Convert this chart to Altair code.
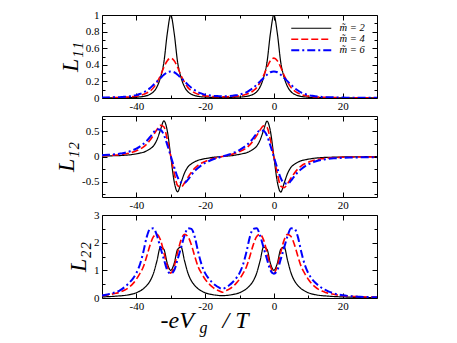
import altair as alt
import pandas as pd

# ---------------- data ----------------
x_vals = [-50, -48, -46, -45, -44, -43, -42, -41, -40, -39, -38, -37, -36, -35, -34, -33,
          -32, -31, -30, -29, -28, -27, -26, -25, -24, -23, -22, -21, -20, -19, -18, -17,
          -16, -15, -14, -13, -12, -11, -10, -9, -8, -7, -6, -5, -4, -3, -2, -1, 0,
          1, 2, 3, 4, 5, 6, 7, 8, 9, 10, 11, 12, 13, 14, 15, 16, 18, 20, 22, 25, 30]

series_labels = ["m\u0303 = 2", "m\u0303 = 4", "m\u0303 = 6"]

l11_m2 = [0.002, 0.002, 0.0025, 0.003, 0.0035, 0.004, 0.005, 0.007, 0.009, 0.013, 0.018, 0.028,
          0.045, 0.075, 0.135, 0.245, 0.43, 0.78, 1.0, 0.78, 0.43, 0.245, 0.135, 0.075, 0.045,
          0.029, 0.019, 0.014, 0.011, 0.009, 0.007, 0.006, 0.006, 0.006, 0.006, 0.006, 0.007,
          0.009, 0.011, 0.014, 0.019, 0.029, 0.045, 0.075, 0.135, 0.245, 0.43, 0.78, 1.0,
          0.78, 0.43, 0.245, 0.135, 0.075, 0.045, 0.028, 0.018, 0.013, 0.009, 0.007, 0.005,
          0.004, 0.0035, 0.003, 0.0025, 0.002, 0.0015, 0.0012, 0.001, 0.0008]
l11_m4 = [0.003, 0.004, 0.006, 0.007, 0.009, 0.011, 0.013, 0.017, 0.022, 0.03, 0.042, 0.06,
          0.085, 0.125, 0.19, 0.27, 0.37, 0.45, 0.48, 0.45, 0.37, 0.27, 0.19, 0.125, 0.087,
          0.062, 0.045, 0.033, 0.025, 0.021, 0.017, 0.016, 0.015, 0.014, 0.015, 0.016, 0.017,
          0.021, 0.025, 0.033, 0.045, 0.062, 0.087, 0.125, 0.19, 0.27, 0.37, 0.45, 0.48,
          0.45, 0.37, 0.27, 0.19, 0.125, 0.085, 0.06, 0.042, 0.03, 0.022, 0.017, 0.013,
          0.011, 0.009, 0.007, 0.006, 0.004, 0.003, 0.0025, 0.002, 0.0015]
l11_m6 = [0.005, 0.007, 0.009, 0.01, 0.013, 0.016, 0.02, 0.027, 0.035, 0.048, 0.065, 0.09,
          0.12, 0.16, 0.2, 0.24, 0.28, 0.31, 0.32, 0.31, 0.28, 0.24, 0.2, 0.16, 0.123,
          0.094, 0.069, 0.053, 0.04, 0.033, 0.027, 0.024, 0.022, 0.02, 0.022, 0.024, 0.027,
          0.033, 0.04, 0.053, 0.069, 0.094, 0.123, 0.16, 0.2, 0.24, 0.28, 0.31, 0.32,
          0.31, 0.28, 0.24, 0.2, 0.16, 0.12, 0.09, 0.065, 0.048, 0.035, 0.027, 0.02,
          0.016, 0.013, 0.01, 0.009, 0.007, 0.005, 0.004, 0.003, 0.002]

l12_m2 = [0.009, 0.012, 0.016, 0.018, 0.021, 0.027, 0.032, 0.042, 0.052, 0.067, 0.082, 0.112,
          0.152, 0.212, 0.332, 0.523, 0.703, 0.503, 0.003, -0.497, -0.697, -0.516, -0.326,
          -0.205, -0.144, -0.104, -0.073, -0.057, -0.042, -0.031, -0.019, -0.012, -0.005, 0.0,
          0.005, 0.012, 0.019, 0.031, 0.042, 0.057, 0.073, 0.104, 0.144, 0.205, 0.326, 0.516,
          0.697, 0.497, -0.003, -0.503, -0.703, -0.523, -0.332, -0.212, -0.152, -0.112,
          -0.082, -0.067, -0.052, -0.042, -0.032, -0.027, -0.021, -0.018, -0.016, -0.012,
          -0.009, -0.007, -0.005, -0.003]
l12_m4 = [0.016, 0.021, 0.029, 0.035, 0.043, 0.053, 0.069, 0.089, 0.114, 0.144, 0.184, 0.244,
          0.324, 0.424, 0.534, 0.615, 0.585, 0.335, 0.005, -0.324, -0.574, -0.604, -0.523,
          -0.412, -0.311, -0.23, -0.169, -0.127, -0.097, -0.07, -0.047, -0.028, -0.014, 0.0,
          0.014, 0.028, 0.047, 0.07, 0.097, 0.127, 0.169, 0.23, 0.311, 0.412, 0.523, 0.604,
          0.574, 0.324, -0.005, -0.335, -0.585, -0.615, -0.534, -0.424, -0.324, -0.244,
          -0.184, -0.144, -0.114, -0.089, -0.069, -0.053, -0.043, -0.035, -0.029, -0.021,
          -0.016, -0.013, -0.01, -0.007]
l12_m6 = [0.026, 0.034, 0.044, 0.054, 0.064, 0.08, 0.1, 0.125, 0.155, 0.196, 0.246, 0.306,
          0.386, 0.476, 0.537, 0.527, 0.428, 0.228, 0.009, -0.211, -0.41, -0.509, -0.518,
          -0.457, -0.365, -0.283, -0.221, -0.17, -0.128, -0.094, -0.065, -0.04, -0.02, 0.0,
          0.02, 0.04, 0.065, 0.094, 0.128, 0.17, 0.221, 0.283, 0.365, 0.457, 0.518, 0.509,
          0.41, 0.211, -0.009, -0.228, -0.428, -0.527, -0.537, -0.476, -0.386, -0.306,
          -0.246, -0.196, -0.155, -0.125, -0.1, -0.08, -0.064, -0.054, -0.044, -0.034,
          -0.026, -0.02, -0.017, -0.013]

l22_m2 = [0.04, 0.05, 0.065, 0.075, 0.085, 0.1, 0.12, 0.15, 0.19, 0.25, 0.33, 0.45, 0.62, 0.9,
          1.35, 1.84, 1.76, 1.25, 1.0, 1.25, 1.76, 1.84, 1.35, 0.9, 0.62, 0.45, 0.33, 0.25,
          0.19, 0.15, 0.125, 0.105, 0.09, 0.085, 0.09, 0.105, 0.125, 0.15, 0.19, 0.25, 0.33,
          0.45, 0.62, 0.9, 1.35, 1.84, 1.76, 1.25, 1.0, 1.25, 1.76, 1.84, 1.35, 0.9, 0.62,
          0.45, 0.33, 0.25, 0.19, 0.15, 0.12, 0.1, 0.085, 0.075, 0.065, 0.05, 0.04, 0.03,
          0.022, 0.015]
l22_m4 = [0.085, 0.12, 0.17, 0.2, 0.25, 0.31, 0.4, 0.52, 0.68, 0.88, 1.12, 1.5, 1.92, 2.22,
          2.3, 2.1, 1.65, 1.15, 0.9, 1.15, 1.65, 2.1, 2.3, 2.22, 1.92, 1.5, 1.12, 0.88, 0.68,
          0.53, 0.41, 0.32, 0.26, 0.21, 0.26, 0.32, 0.41, 0.53, 0.68, 0.88, 1.12, 1.5, 1.92,
          2.22, 2.3, 2.1, 1.65, 1.15, 0.9, 1.15, 1.65, 2.1, 2.3, 2.22, 1.92, 1.5, 1.12, 0.88,
          0.68, 0.52, 0.4, 0.31, 0.25, 0.2, 0.17, 0.12, 0.085, 0.065, 0.045, 0.03]
l22_m6 = [0.09, 0.14, 0.21, 0.26, 0.34, 0.44, 0.56, 0.7, 0.9, 1.2, 1.65, 2.2, 2.5, 2.52, 2.25,
          1.82, 1.4, 1.0, 0.88, 1.0, 1.4, 1.82, 2.25, 2.52, 2.5, 2.2, 1.65, 1.2, 0.9, 0.71,
          0.57, 0.46, 0.38, 0.33, 0.38, 0.46, 0.57, 0.71, 0.9, 1.2, 1.65, 2.2, 2.5, 2.52, 2.25,
          1.82, 1.4, 1.0, 0.88, 1.0, 1.4, 1.82, 2.25, 2.52, 2.5, 2.2, 1.65, 1.2, 0.9, 0.7,
          0.56, 0.45, 0.36, 0.29, 0.23, 0.15, 0.1, 0.07, 0.045, 0.025]

x_domain = [-50, 30]
x_major = [-40, -20, 0, 20]
x_minor = [-30, -10, 10]

# ---------------- styles ----------------
colors = ["#000000", "#ff0000", "#0000ff"]
dashes = [[1, 0], [7, 3], [8, 3, 2, 3]]
widths = [1.2, 2.0, 2.5]
SERIF = "Liberation Serif"


def long_df(lists):
    rows = []
    for lab, vals in zip(series_labels, lists):
        for xv, v in zip(x_vals, vals):
            rows.append({"x": xv, "v": v, "s": lab})
    return pd.DataFrame(rows)


def panel(df, title, y_domain, y_major, y_minor, height, legend=False, x_title=False):
    xs = alt.Scale(domain=x_domain, nice=False, zero=False)
    ys = alt.Scale(domain=y_domain, nice=False, zero=False)
    if legend:
        leg = alt.Legend(title=None, orient="none", legendX=204, legendY=8,
                         symbolType="M-5,0L5,0", symbolSize=64, labelFont=SERIF,
                         labelFontStyle="italic", labelFontSize=10.5, labelOffset=23,
                         padding=0, rowPadding=0, labelColor="black")
    else:
        leg = None

    main_x_axis = dict(values=x_major, labelExpr="'' + datum.value", ticks=False,
                       domain=False, grid=False, labelPadding=2, labelFlush=False,
                       title=None)
    if x_title:
        main_x_axis.update(title="-eV", titleX=58, titleY=29, titleAlign="left",
                           titleBaseline="alphabetic", titleFont=SERIF,
                           titleFontStyle="italic", titleFontWeight="normal",
                           titleFontSize=24, titleColor="black")

    main = alt.Chart(df).mark_line(interpolate="monotone", clip=True).encode(
        x=alt.X("x:Q", scale=xs, axis=alt.Axis(**main_x_axis)),
        y=alt.Y("v:Q", scale=ys, axis=alt.Axis(
            values=y_major, labelExpr="'' + datum.value", ticks=False, domain=False,
            grid=False, labelPadding=3, labelFlush=False, title=title,
            titleFont=SERIF, titleFontStyle="italic", titleFontWeight="normal",
            titleFontSize=24, titlePadding=3, titleColor="black")),
        color=alt.Color("s:N", scale=alt.Scale(domain=series_labels, range=colors), legend=leg),
        strokeDash=alt.StrokeDash("s:N", scale=alt.Scale(domain=series_labels, range=dashes), legend=leg),
        strokeWidth=alt.StrokeWidth("s:N", scale=alt.Scale(domain=series_labels, range=widths), legend=leg),
    )

    def tick_layer(ox, oy, xv, yv, size, extra_x=None):
        xa = dict(orient=ox, values=xv, labels=False, domain=False, grid=False,
                  ticks=True, tickSize=size, offset=-size, tickColor="black",
                  tickWidth=1, title=None)
        if extra_x:
            xa.update(extra_x)
        return alt.Chart(df).mark_line(opacity=0).encode(
            x=alt.X("x:Q", scale=xs, axis=alt.Axis(**xa)),
            y=alt.Y("v:Q", scale=ys, axis=alt.Axis(
                orient=oy, values=yv, labels=False, domain=False, grid=False,
                ticks=True, tickSize=size, offset=-size, tickColor="black",
                tickWidth=1, title=None)),
        )

    tfont = dict(titleFont=SERIF, titleFontStyle="italic", titleFontWeight="normal",
                 titleColor="black", titleAlign="left", titleBaseline="alphabetic")
    g_extra = None
    t_extra = None
    if x_title:
        g_extra = dict(title="g", titleX=97, titleY=39, titleFontSize=16, **tfont)
        t_extra = dict(title="/ T", titleX=120, titleY=32, titleFontSize=24, **tfont)

    layers = [
        main,
        tick_layer("bottom", "left", x_major, y_major, 5, g_extra),
        tick_layer("bottom", "left", x_minor, y_minor, 3, t_extra),
        tick_layer("top", "right", x_major, y_major, 5),
        tick_layer("top", "right", x_minor, y_minor, 3),
    ]
    return alt.layer(*layers).resolve_axis(x="independent", y="independent").properties(
        width=275, height=height)


p1 = panel(long_df([l11_m2, l11_m4, l11_m6]), "L\u2081\u2081", [0, 1],
           [0, 0.2, 0.4, 0.6, 0.8, 1], [0.1, 0.3, 0.5, 0.7, 0.9], 83, legend=True)
p2 = panel(long_df([l12_m2, l12_m4, l12_m6]), "L\u2081\u2082", [-0.8, 0.8],
           [-0.5, 0, 0.5], [-0.75, -0.25, 0.25, 0.75], 81)
p3 = panel(long_df([l22_m2, l22_m4, l22_m6]), "L\u2082\u2082", [0, 3],
           [0, 1, 2, 3], [0.5, 1.5, 2.5], 83, x_title=True)

chart = alt.vconcat(p1, p2, p3, spacing=18, bounds="flush").resolve_scale(
    color="independent", strokeDash="independent", strokeWidth="independent"
).configure_view(stroke="black", strokeWidth=1).configure_axis(
    labelFont=SERIF, labelFontSize=11, labelColor="black"
).properties(padding={"left": 46, "top": 0, "right": 5, "bottom": 5},
             background="white")

chart.save("out.html", embed_options={"renderer": "svg", "actions": False})
